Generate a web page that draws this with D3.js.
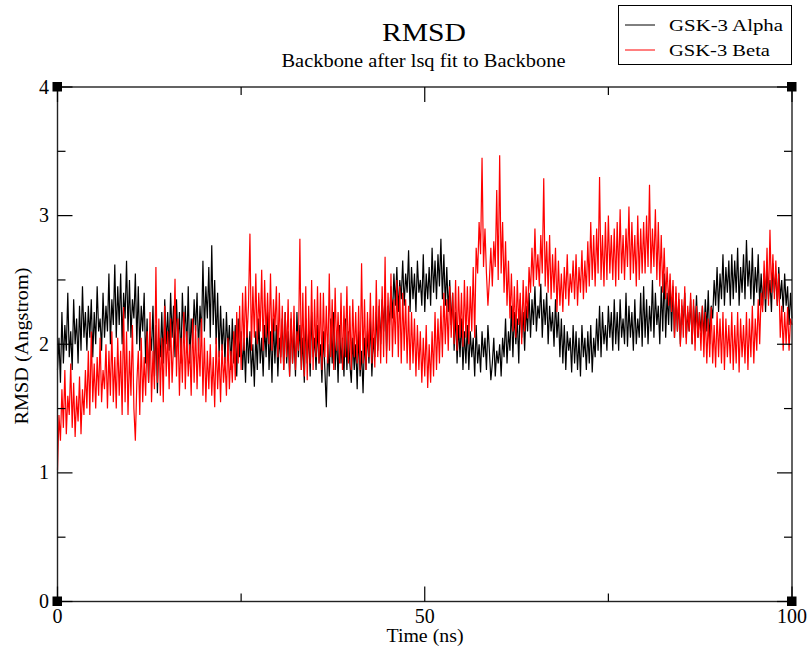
<!DOCTYPE html>
<html><head><meta charset="utf-8">
<script src="https://cdn.jsdelivr.net/npm/d3@7"></script>
<style>body{margin:0;background:#fff}svg{display:block}</style>
</head><body><svg id="c" width="809" height="648"></svg>
<script>
const timeStep = 0.2;
const seriesNames = ["GSK-3 Alpha", "GSK-3 Beta"];
const alphaRMSD = [
1.80,2.05,1.70,2.25,1.85,2.15,1.95,2.40,1.90,2.10,1.80,2.35,2.00,2.20,1.85,2.30,1.95,2.45,2.05,2.25,
1.95,2.30,2.05,2.35,1.90,2.25,2.00,2.45,2.10,2.20,1.95,2.40,2.05,2.30,2.10,2.55,2.00,2.35,2.15,2.62,
2.05,2.45,2.15,2.55,2.00,2.40,2.20,2.65,2.10,2.50,2.05,2.35,2.20,2.55,2.00,2.45,1.95,2.30,2.10,2.40,
1.85,2.20,1.70,2.10,1.95,2.30,1.75,2.15,1.62,2.05,1.90,2.25,1.85,2.35,2.00,2.25,1.95,2.40,2.05,2.30,
1.90,2.35,2.00,2.25,1.85,2.40,2.05,2.30,1.95,2.45,1.85,2.20,2.00,2.35,2.10,2.40,1.95,2.30,2.05,2.65,
2.10,2.45,2.20,2.60,2.05,2.77,2.15,2.50,2.00,2.40,1.90,2.30,1.95,2.20,1.85,2.25,1.95,2.15,1.80,2.20,
1.85,2.15,1.75,2.20,1.90,2.10,1.80,2.05,1.70,2.15,1.85,2.10,1.75,2.00,1.67,2.10,1.80,2.20,1.85,2.05,
1.75,2.15,1.90,2.25,1.80,2.10,1.70,2.20,1.85,2.15,1.75,2.05,1.90,2.20,1.80,2.25,1.85,2.10,1.75,2.20,
1.85,2.10,1.75,2.25,1.90,2.15,1.80,2.05,1.70,2.20,1.85,2.10,1.75,2.25,1.90,2.05,1.80,2.15,1.85,2.00,
1.70,2.10,1.80,1.51,2.00,1.75,2.20,1.85,2.25,1.80,2.10,1.70,2.15,1.85,2.05,1.75,2.20,1.80,2.10,1.85,
1.70,2.05,1.80,2.00,1.65,2.10,1.75,1.95,1.62,2.05,1.80,2.10,1.85,2.20,1.75,2.05,1.90,2.25,1.95,2.30,
2.00,2.35,2.10,2.40,1.95,2.30,2.15,2.45,2.20,2.55,2.30,2.60,2.25,2.50,2.35,2.65,2.30,2.55,2.40,2.73,
2.25,2.60,2.35,2.55,2.25,2.65,2.40,2.50,2.30,2.70,2.25,2.55,2.35,2.60,2.30,2.75,2.40,2.65,2.35,2.70,
2.45,2.82,2.35,2.70,2.30,2.60,2.25,2.50,2.15,2.40,1.95,2.25,1.85,2.15,1.90,2.20,1.80,2.10,1.85,2.15,
1.80,2.10,1.90,2.05,1.75,2.15,1.85,2.00,1.78,2.10,1.90,2.05,1.80,2.15,1.95,1.72,1.85,2.05,1.75,1.95,
1.85,2.00,1.75,2.05,1.90,2.20,1.85,2.10,1.95,2.30,1.90,2.25,2.00,2.20,1.85,2.35,2.05,2.25,1.95,2.30,
2.10,2.40,2.05,2.35,2.15,2.45,2.10,2.30,2.20,2.47,2.05,2.35,2.15,2.40,2.00,2.30,2.10,2.25,1.98,2.35,
2.05,2.25,1.90,2.20,1.85,2.15,1.80,2.10,1.95,2.05,1.78,2.15,1.85,2.10,1.80,2.05,1.75,2.15,1.90,2.05,
1.80,2.10,1.85,2.15,1.78,2.05,1.90,2.20,1.95,2.30,1.90,2.25,2.00,2.15,1.95,2.30,2.05,2.25,1.95,2.35,
2.00,2.25,1.95,2.35,2.05,2.20,2.00,2.40,1.98,2.30,2.05,2.25,1.95,2.35,2.00,2.20,2.05,2.40,1.98,2.45,
2.05,2.35,2.00,2.30,2.10,2.50,2.05,2.40,2.15,2.30,2.00,2.45,2.10,2.55,2.05,2.40,2.15,2.50,2.10,2.45,
2.05,2.40,2.10,2.35,2.00,2.30,2.15,2.40,2.05,2.25,2.10,2.35,2.00,2.30,2.10,2.38,2.05,2.25,2.10,2.30,
2.05,2.35,2.10,2.42,2.00,2.30,2.20,2.50,2.30,2.60,2.25,2.55,2.35,2.70,2.30,2.60,2.40,2.65,2.30,2.70,
2.35,2.65,2.40,2.75,2.30,2.60,2.40,2.70,2.35,2.81,2.45,2.65,2.35,2.75,2.30,2.60,2.40,2.70,2.30,2.55,
2.30,2.55,2.25,2.60,2.35,2.50,2.25,2.63,2.40,2.55,2.30,2.60,2.35,2.50,2.25,2.55,2.30,2.45,2.15,2.40,
2.20];
const betaRMSD = [
1.02,1.45,1.25,1.65,1.35,1.80,1.30,1.60,1.45,1.85,1.35,1.70,1.28,1.60,1.40,1.75,1.30,1.65,1.45,1.80,
1.50,1.95,1.45,2.10,1.55,1.85,1.50,1.90,1.60,2.05,1.55,1.80,1.65,2.00,1.50,1.95,1.60,2.10,1.55,1.90,
1.50,2.05,1.60,1.95,1.45,2.29,1.55,2.10,1.45,1.95,1.60,2.15,1.50,1.25,1.70,1.95,1.45,2.05,1.55,1.90,
1.60,2.10,1.70,2.25,1.55,1.95,1.65,2.60,1.70,2.20,1.60,2.05,1.55,2.30,1.75,2.10,1.65,2.20,1.70,2.00,
2.51,1.75,2.20,1.60,2.05,1.70,2.25,1.65,2.10,1.75,2.00,1.60,2.20,1.70,2.15,1.65,2.05,1.75,2.20,1.60,
2.05,1.55,1.95,1.65,2.00,1.60,1.90,1.51,2.05,1.65,1.95,1.55,2.00,1.70,1.90,1.60,2.05,1.65,1.95,1.70,
2.10,1.72,2.25,1.85,2.30,1.80,2.40,1.95,2.45,2.05,2.30,2.86,1.95,2.45,2.05,2.55,2.00,2.40,2.10,2.58,
1.95,2.50,2.05,2.40,2.00,2.55,1.95,2.35,2.10,2.45,1.90,2.40,1.85,2.30,1.80,2.25,1.90,2.35,1.75,2.25,
1.85,2.30,1.80,2.10,1.95,2.82,1.80,2.40,1.75,2.45,1.72,2.30,1.85,2.50,1.80,2.35,1.90,2.45,1.85,2.40,
1.80,2.40,1.90,2.30,1.85,2.55,1.90,2.35,1.80,2.44,1.95,2.25,1.85,2.40,1.80,2.30,1.90,2.45,1.85,2.30,
1.80,2.35,1.90,2.25,1.85,2.30,1.80,2.63,1.85,2.35,1.80,2.25,1.90,2.40,1.85,2.30,1.82,2.50,1.90,2.35,
1.85,2.45,1.90,2.68,1.85,2.40,1.95,2.55,1.90,2.35,2.00,2.50,1.90,2.45,1.85,2.40,1.95,2.35,1.85,2.30,
1.80,2.25,1.85,2.20,1.75,2.15,1.80,2.10,1.70,2.05,1.75,2.15,1.66,2.00,1.70,2.10,1.75,2.25,1.80,2.20,
1.85,2.30,1.90,2.40,2.00,2.35,1.95,2.45,2.05,2.40,2.00,2.50,1.95,2.45,2.05,2.40,1.98,2.50,2.05,2.45,
2.00,2.45,2.10,2.60,2.05,2.75,2.55,2.95,2.70,3.45,2.60,2.90,2.55,2.30,2.50,2.75,2.45,2.80,2.60,3.20,
2.50,3.47,2.55,2.95,2.40,2.80,2.30,2.65,2.20,2.55,2.10,2.45,2.05,2.50,2.15,2.40,2.00,2.50,2.10,2.45,
2.20,2.60,2.40,2.75,2.45,2.90,2.50,2.70,2.45,2.85,2.55,3.29,2.45,2.80,2.40,2.85,2.35,2.70,2.40,2.75,
2.25,2.65,2.30,2.55,2.25,2.60,2.35,2.70,2.30,2.55,2.40,2.65,2.35,2.70,2.30,2.60,2.40,2.73,2.35,2.65,
2.40,2.80,2.45,2.95,2.50,2.85,2.45,2.90,2.55,3.30,2.50,2.85,2.45,2.95,2.50,3.00,2.55,2.85,2.50,2.90,
2.45,2.95,2.50,3.05,2.55,2.85,2.50,2.90,2.60,3.07,2.50,2.95,2.55,2.85,2.45,3.00,2.50,2.90,2.55,2.95,
2.55,3.00,2.60,3.24,2.55,2.90,2.60,3.05,2.50,2.95,2.45,2.85,2.40,2.75,2.35,2.60,2.30,2.55,2.25,2.50,
2.05,2.45,2.10,2.40,1.98,2.35,2.05,2.45,2.00,2.30,2.10,2.40,2.00,2.35,1.95,2.30,2.05,2.25,1.95,2.30,
1.90,2.25,1.85,2.20,1.90,2.29,1.85,2.15,1.82,2.25,1.90,2.20,1.85,2.25,1.80,2.20,1.90,2.15,1.85,2.25,
1.80,2.15,1.85,2.25,1.78,2.20,1.90,2.15,1.85,2.25,1.80,2.20,1.90,2.30,1.85,2.20,1.95,2.35,2.00,2.40,
2.25,2.65,2.35,2.75,2.30,2.89,2.40,2.70,2.35,2.65,2.30,2.55,2.05,2.30,1.95,2.25,2.00,2.29,1.95,2.20,
2.15];
const xMajorTicks = [0, 50, 100];
const xMinorTicks = [25, 75];
const yMajorTicks = [0, 1, 2, 3, 4];
const yMinorTicks = [0.5, 1.5, 2.5, 3.5];
const titleText = "RMSD";
const subtitleText = "Backbone after lsq fit to Backbone";
const xLabel = "Time (ns)";
const yLabel = "RMSD (Angstrom)";
const colors = ["#000000", "#ff0000"];

// ---- drawing ----
const svg = d3.select("#c");
const L = 57.5, R = 792, T = 87, B = 601.5;
const x = d3.scaleLinear().domain([0, 100]).range([L, R]);
const y = d3.scaleLinear().domain([0, 4]).range([B, T]);
const font = "'Liberation Serif','Times New Roman',serif";

const line = d3.line().x((d, i) => x(i * timeStep)).y(d => y(d));
[alphaRMSD, betaRMSD].forEach((s, k) => {
  svg.append("path").datum(s).attr("d", line)
    .attr("fill", "none").attr("stroke", colors[k]).attr("stroke-width", 1.2)
    .attr("stroke-linejoin", "miter");
});

// frame
svg.append("rect").attr("x", L).attr("y", T).attr("width", R - L).attr("height", B - T)
  .attr("fill", "none").attr("stroke", "#222").attr("stroke-width", 1.4);

// ticks (inward, mirrored)
const tk = svg.append("g").attr("stroke", "#000").attr("stroke-width", 1.2);
const maj = 15, mnr = 8;
xMajorTicks.concat(xMinorTicks).forEach(v => {
  const len = xMajorTicks.includes(v) ? maj : mnr;
  tk.append("line").attr("x1", x(v)).attr("x2", x(v)).attr("y1", B).attr("y2", B - len);
  tk.append("line").attr("x1", x(v)).attr("x2", x(v)).attr("y1", T).attr("y2", T + len);
});
yMajorTicks.concat(yMinorTicks).forEach(v => {
  const len = yMajorTicks.includes(v) ? maj : mnr;
  tk.append("line").attr("y1", y(v)).attr("y2", y(v)).attr("x1", L).attr("x2", L + len);
  tk.append("line").attr("y1", y(v)).attr("y2", y(v)).attr("x1", R).attr("x2", R - len);
});

// corner markers
[[L, T], [R, T], [L, B], [R, B]].forEach(([cx, cy]) => {
  svg.append("rect").attr("x", cx - 5).attr("y", cy - 5).attr("width", 9.5).attr("height", 9.5).attr("fill", "#000");
});

// tick labels
svg.append("g").selectAll("text").data(xMajorTicks).join("text")
  .attr("x", d => x(d)).attr("y", 623).attr("text-anchor", "middle")
  .attr("font-family", font).attr("font-size", 20).text(d => d);
svg.append("g").selectAll("text").data(yMajorTicks).join("text")
  .attr("x", 49).attr("y", d => y(d) + 6.5).attr("text-anchor", "end")
  .attr("font-family", font).attr("font-size", 20).text(d => d);

// titles
svg.append("text").attr("x", 424).attr("y", 41).attr("text-anchor", "middle")
  .attr("font-family", font).attr("font-size", 26).attr("textLength", 84).attr("lengthAdjust", "spacingAndGlyphs").text(titleText);
svg.append("text").attr("x", 423.5).attr("y", 67).attr("text-anchor", "middle")
  .attr("font-family", font).attr("font-size", 18).attr("textLength", 284).attr("lengthAdjust", "spacingAndGlyphs").text(subtitleText);
svg.append("text").attr("x", 425).attr("y", 642).attr("text-anchor", "middle")
  .attr("font-family", font).attr("font-size", 19).attr("textLength", 77).attr("lengthAdjust", "spacingAndGlyphs").text(xLabel);
svg.append("text").attr("transform", "translate(28,346) rotate(-90)").attr("text-anchor", "middle")
  .attr("font-family", font).attr("font-size", 18).attr("textLength", 157).attr("lengthAdjust", "spacingAndGlyphs").text(yLabel);

// legend
const lg = svg.append("g");
lg.append("rect").attr("x", 618.5).attr("y", 5.5).attr("width", 173).attr("height", 59)
  .attr("fill", "#fff").attr("stroke", "#000").attr("stroke-width", 1);
const lens = [114, 101];
seriesNames.forEach((n, k) => {
  const cy = 25 + k * 25;
  lg.append("line").attr("x1", 625).attr("x2", 655).attr("y1", cy).attr("y2", cy)
    .attr("stroke", colors[k]).attr("stroke-width", 1);
  lg.append("text").attr("x", 669).attr("y", cy + 5.5).attr("font-family", font).attr("font-size", 17)
    .attr("textLength", lens[k]).attr("lengthAdjust", "spacingAndGlyphs").text(n);
});
</script></body></html>
